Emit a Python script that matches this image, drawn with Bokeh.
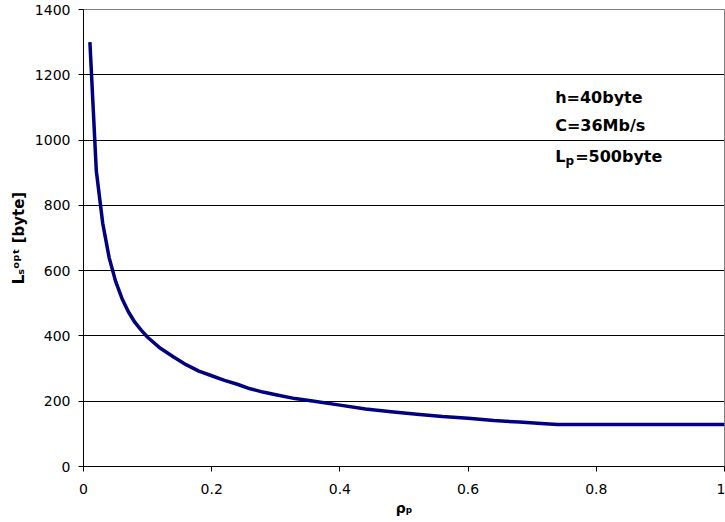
import math
from bokeh.plotting import figure
from bokeh.models import Label, FixedTicker, Range1d
from bokeh.embed import file_html
from bokeh.resources import INLINE

# ---- data ----
rho_p = [0.01, 0.02, 0.03, 0.04, 0.05, 0.06, 0.07, 0.08, 0.09, 0.10,
         0.12, 0.14, 0.16, 0.18, 0.20, 0.22, 0.24, 0.26, 0.28, 0.30,
         0.33, 0.36, 0.40, 0.44, 0.48, 0.52, 0.56, 0.60, 0.64, 0.68,
         0.72, 0.74, 0.80, 0.90, 1.00]
ls_opt = [1300, 905, 745, 640, 568, 515, 474, 442, 418, 396,
          362, 336, 312, 292, 278, 264, 252, 238, 228, 220,
          208, 200, 188, 176, 168, 160, 153, 148, 141, 136,
          131, 129, 129, 129, 129]

x_ticks = [0, 0.2, 0.4, 0.6, 0.8, 1.0]
x_tick_labels = ["0", "0.2", "0.4", "0.6", "0.8", "1"]
y_ticks = [0, 200, 400, 600, 800, 1000, 1200, 1400]

x_title = "ρₚ"
y_title = "Lₛᵒᵖᵗ [byte]"
param_lines = ["h=40byte", "C=36Mb/s"]

FONT = "DejaVu Sans"

p = figure(width=725, height=522,
           x_range=Range1d(0, 1), y_range=Range1d(0, 1400),
           output_backend="svg", toolbar_location=None,
           min_border_left=83, min_border_right=1,
           min_border_top=9, min_border_bottom=56)
p.background_fill_color = "white"
p.border_fill_color = "white"
p.outline_line_color = "#808080"
p.outline_line_width = 1

p.line(rho_p, ls_opt, line_color="#000080", line_width=3.5, line_join="round")

# grid
p.xgrid.visible = False
p.ygrid.ticker = FixedTicker(ticks=y_ticks)
p.ygrid.grid_line_color = "black"
p.ygrid.grid_line_width = 1

# axes
p.xaxis.ticker = FixedTicker(ticks=x_ticks)
p.xaxis.major_label_overrides = {t: l for t, l in zip(x_ticks, x_tick_labels)}
p.yaxis.ticker = FixedTicker(ticks=y_ticks)
for ax in (p.xaxis[0], p.yaxis[0]):
    ax.axis_line_color = "black"
    ax.axis_line_width = 1
    ax.major_tick_line_color = "black"
    ax.major_tick_out = 5
    ax.major_tick_in = 0
    ax.minor_tick_line_color = None
    ax.major_label_text_font = FONT
    ax.major_label_text_font_size = "14px"
    ax.major_label_text_color = "black"
    ax.axis_label_text_font = FONT
    ax.axis_label_text_font_style = "bold"
    ax.axis_label_text_color = "black"
p.xaxis.major_label_standoff = 12
p.yaxis.major_label_standoff = 8

p.xaxis.axis_label = x_title
p.xaxis.axis_label_text_font_size = "14px"
p.xaxis.axis_label_standoff = 3
p.yaxis.axis_label = y_title
p.yaxis.axis_label_text_font_size = "15px"
p.yaxis.axis_label_standoff = 4

def lab(x, y, text, size):
    p.add_layout(Label(x=x, y=y, text=text, text_font=FONT,
                       text_font_size=size, text_font_style="bold",
                       text_color="black",
                       text_align="left", text_baseline="alphabetic"))

# parameter box
lab(0.7358, 1129, param_lines[0], "16px")
lab(0.7358, 1044, param_lines[1], "16px")
lab(0.7358, 949, "L", "16px")
lab(0.7521, 937, "p", "12px")
lab(0.7670, 949, "=500byte", "16px")

open("out.html", "w").write(file_html(p, INLINE))
